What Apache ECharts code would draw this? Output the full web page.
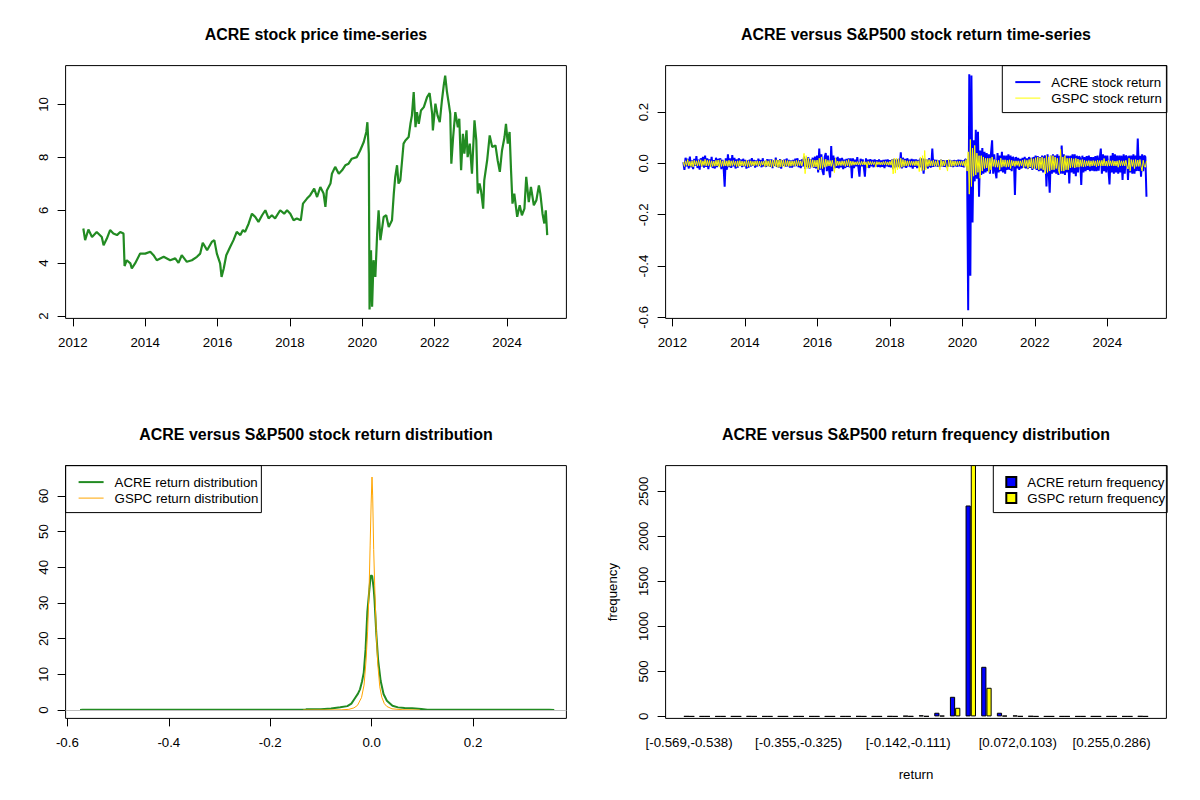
<!DOCTYPE html>
<html><head><meta charset="utf-8">
<script src="https://cdn.jsdelivr.net/npm/echarts@6/dist/echarts.min.js"></script>
<style>html,body{margin:0;padding:0;background:#fff}#c{width:1200px;height:800px}</style>
</head><body><div id="c"></div>
<script>
// ---------- DATA ----------
const priceSeries = [[2012.29,5.31],[2012.34,4.87],[2012.43,5.27],[2012.53,4.99],[2012.66,5.18],[2012.80,4.99],[2012.85,4.68],[2012.94,4.93],[2013.03,5.25],[2013.12,5.12],[2013.22,5.06],[2013.31,5.18],[2013.40,5.12],[2013.43,3.89],[2013.49,4.11],[2013.59,3.99],[2013.63,3.80],[2013.72,3.99],[2013.86,4.36],[2014.00,4.36],[2014.14,4.43],[2014.23,4.30],[2014.32,4.11],[2014.51,4.24],[2014.69,4.11],[2014.83,4.18],[2014.92,4.01],[2015.01,4.30],[2015.15,4.05],[2015.29,4.11],[2015.43,4.24],[2015.52,4.36],[2015.59,4.77],[2015.71,4.49],[2015.84,4.80],[2015.91,4.87],[2015.98,4.36],[2016.07,3.99],[2016.11,3.48],[2016.17,3.80],[2016.24,4.30],[2016.35,4.62],[2016.44,4.87],[2016.53,5.18],[2016.63,5.06],[2016.70,5.25],[2016.76,5.18],[2016.86,5.50],[2016.95,5.87],[2017.04,5.75],[2017.13,5.56],[2017.23,5.81],[2017.32,6.00],[2017.41,5.69],[2017.50,5.81],[2017.59,5.69],[2017.73,6.00],[2017.84,5.87],[2017.92,6.00],[2018.01,5.87],[2018.10,5.62],[2018.19,5.69],[2018.30,5.62],[2018.36,6.25],[2018.47,6.44],[2018.56,6.57],[2018.67,6.82],[2018.75,6.50],[2018.84,6.88],[2018.93,6.63],[2018.98,6.13],[2019.02,6.75],[2019.12,7.01],[2019.16,7.38],[2019.25,7.64],[2019.35,7.38],[2019.44,7.51],[2019.53,7.70],[2019.62,7.76],[2019.71,7.95],[2019.85,8.01],[2019.94,8.26],[2020.04,8.58],[2020.11,8.96],[2020.14,9.33],[2020.18,8.14],[2020.20,2.25],[2020.24,4.49],[2020.27,2.35],[2020.31,4.11],[2020.36,3.48],[2020.41,5.12],[2020.45,6.00],[2020.50,4.87],[2020.54,5.25],[2020.59,5.75],[2020.66,5.81],[2020.73,5.37],[2020.82,5.62],[2020.87,6.63],[2020.91,7.26],[2020.96,7.70],[2021.00,7.01],[2021.05,7.13],[2021.10,7.89],[2021.14,8.52],[2021.19,8.64],[2021.28,8.77],[2021.33,9.27],[2021.37,9.58],[2021.42,10.47],[2021.47,9.14],[2021.51,9.71],[2021.56,9.27],[2021.62,9.77],[2021.70,9.90],[2021.79,10.28],[2021.86,10.43],[2021.93,9.65],[2021.95,9.02],[2022.02,10.03],[2022.08,9.58],[2022.14,9.33],[2022.20,10.15],[2022.25,10.72],[2022.29,11.09],[2022.34,10.47],[2022.39,10.03],[2022.43,9.65],[2022.46,7.76],[2022.51,8.77],[2022.57,9.71],[2022.64,9.14],[2022.68,9.46],[2022.73,7.51],[2022.78,8.89],[2022.82,8.14],[2022.88,9.02],[2022.91,8.01],[2022.97,8.52],[2023.03,7.38],[2023.10,9.40],[2023.15,8.64],[2023.19,6.63],[2023.24,7.01],[2023.28,6.75],[2023.34,6.06],[2023.37,7.13],[2023.45,7.89],[2023.52,8.83],[2023.59,8.39],[2023.68,8.45],[2023.74,7.89],[2023.80,7.45],[2023.86,8.26],[2023.93,8.77],[2023.97,9.27],[2024.02,8.52],[2024.07,8.96],[2024.11,7.51],[2024.15,6.25],[2024.20,6.63],[2024.28,5.75],[2024.35,6.19],[2024.41,5.81],[2024.48,6.06],[2024.53,7.26],[2024.60,6.31],[2024.66,6.88],[2024.74,6.19],[2024.81,6.38],[2024.88,6.94],[2024.92,6.63],[2024.98,5.87],[2025.03,5.50],[2025.07,6.00],[2025.11,5.06]];

// daily returns, one value every 0.03 year from 2012.30
const returnStart = 2012.30;
const returnStep = 0.03;
const acreReturnValues = [
0.005,-0.025,0.022,-0.012,0.018,-0.02,0.026,-0.015,0.012,-0.022,0.018,-0.01,0.028,-0.018,0.015,-0.024,0.02,-0.012,0.025,-0.017,
0.03,-0.014,0.02,-0.022,0.016,-0.012,0.025,-0.018,0.013,-0.02,0.022,-0.015,0.018,-0.01,0.02,-0.022,0.014,-0.016,-0.091,0.02,
-0.025,0.035,-0.015,0.02,-0.018,0.032,-0.012,0.022,-0.02,0.016,-0.017,0.02,-0.01,0.015,-0.015,0.018,-0.012,0.014,-0.02,0.012,
-0.016,0.015,-0.013,0.02,-0.01,0.014,-0.016,0.012,-0.012,0.018,-0.01,0.013,-0.015,0.02,-0.012,0.01,-0.014,0.016,-0.011,0.015,
-0.014,0.016,-0.018,0.012,-0.01,0.022,-0.014,0.013,-0.016,0.017,-0.02,0.012,-0.01,0.015,-0.013,0.019,-0.012,0.014,-0.016,0.012,
-0.016,0.014,-0.012,0.018,-0.011,0.02,-0.015,0.013,-0.018,0.016,-0.012,0.026,-0.022,0.018,-0.014,0.024,-0.02,0.016,-0.012,0.022,
-0.018,0.026,-0.02,0.03,-0.035,0.058,-0.025,0.035,-0.03,-0.045,0.025,0.04,-0.03,0.03,-0.025,-0.055,0.068,-0.03,0.03,-0.02,
0.022,-0.018,0.025,-0.02,0.02,-0.016,0.022,-0.022,0.015,-0.018,0.018,-0.014,0.02,-0.016,0.02,-0.058,0.02,-0.018,0.015,-0.012,
0.024,-0.015,-0.052,0.018,-0.012,0.016,-0.015,-0.052,0.02,-0.016,0.015,-0.018,0.017,-0.012,0.014,-0.015,0.016,-0.012,0.013,-0.014,
0.016,-0.015,0.012,-0.013,0.014,-0.018,0.015,-0.012,0.016,-0.014,0.013,-0.015,0.016,-0.022,0.018,-0.016,0.015,-0.013,0.018,-0.016,
0.043,-0.02,0.022,-0.015,0.018,-0.018,0.02,-0.012,0.015,-0.015,0.018,-0.02,0.016,-0.014,0.016,-0.018,0.014,-0.015,0.02,-0.016,
0.02,-0.04,0.018,-0.016,0.015,-0.02,0.02,-0.012,-0.015,0.058,-0.014,0.015,-0.012,0.014,-0.013,0.012,-0.014,0.015,-0.012,0.013,
-0.013,0.012,-0.014,0.013,-0.012,0.014,-0.013,0.012,-0.014,0.013,-0.011,0.012,-0.013,0.015,-0.012,0.014,-0.013,0.012,-0.015,0.014,
0.016,-0.02,-0.572,0.347,-0.438,0.342,-0.23,0.09,-0.07,0.131,-0.06,0.123,-0.13,0.05,-0.045,0.06,-0.04,0.045,-0.035,0.04,
-0.03,0.035,-0.04,0.04,0.09,-0.04,0.035,-0.03,-0.058,0.04,-0.035,0.03,-0.03,0.045,-0.035,0.03,-0.04,0.03,-0.025,0.035,
-0.025,0.03,-0.03,0.025,0.02,-0.123,0.025,-0.02,0.022,-0.025,0.018,-0.02,0.022,-0.018,0.025,-0.02,0.02,-0.022,0.025,-0.018,
0.022,-0.025,0.025,-0.02,0.03,-0.025,0.028,-0.03,0.025,-0.028,0.03,-0.035,0.025,0.03,-0.09,0.035,-0.03,-0.114,0.03,-0.04,
0.035,-0.035,0.03,-0.04,0.035,-0.045,0.03,-0.04,0.07,-0.04,0.035,-0.045,0.03,-0.035,0.03,-0.078,0.03,-0.035,0.035,-0.04,
0.035,-0.05,0.03,-0.035,0.028,0.02,-0.084,0.03,-0.035,0.025,-0.03,0.028,-0.025,0.03,-0.03,0.025,-0.028,0.025,-0.03,0.028,
-0.03,0.03,-0.028,0.02,0.058,-0.04,0.035,-0.03,0.03,-0.035,0.03,-0.025,-0.082,0.03,-0.035,0.04,-0.04,0.035,-0.035,0.03,
-0.04,0.03,-0.035,0.03,-0.065,0.035,-0.04,0.03,0.025,-0.065,0.03,-0.035,0.03,-0.04,0.035,-0.04,0.03,-0.03,0.097,-0.03,
0.03,-0.052,0.035,-0.03,0.03,0.025,-0.13];
const gspcReturnValues = [
0.005,-0.012,0.01,-0.008,0.015,-0.01,0.008,-0.012,0.01,-0.014,0.012,-0.008,0.01,-0.01,0.012,-0.009,0.014,-0.012,0.01,-0.008,
0.016,-0.01,0.012,-0.009,0.011,-0.013,0.01,-0.012,0.009,-0.011,0.012,-0.01,0.013,-0.015,0.014,-0.012,0.01,-0.011,0.012,-0.01,
0.01,-0.012,0.012,-0.011,0.01,-0.009,0.011,-0.008,0.009,-0.013,0.01,-0.012,0.011,-0.01,0.009,-0.01,0.008,-0.011,0.012,-0.013,
0.01,-0.012,0.01,-0.009,0.008,-0.01,0.009,-0.008,0.01,-0.011,0.009,-0.01,0.008,-0.007,0.009,-0.013,0.012,-0.011,0.01,-0.012,
0.013,-0.015,0.012,-0.013,0.015,-0.012,0.014,-0.016,0.013,-0.014,0.015,-0.013,0.012,-0.015,0.012,-0.01,0.011,-0.012,0.01,-0.011,
0.01,-0.009,0.01,-0.011,0.012,-0.01,0.011,-0.009,0.01,-0.01,0.009,0.039,-0.04,0.03,-0.02,0.02,-0.018,0.015,-0.016,0.014,
-0.015,0.012,-0.014,0.013,-0.025,0.02,-0.02,0.025,-0.02,0.015,-0.015,0.016,-0.012,0.012,-0.01,0.011,-0.012,0.012,-0.01,-0.036,
0.02,-0.01,0.009,-0.008,0.008,-0.009,0.01,-0.008,0.01,-0.012,0.011,-0.01,0.015,-0.012,0.009,-0.008,0.008,-0.007,0.006,-0.006,
0.007,-0.006,0.006,-0.007,0.008,-0.006,0.007,-0.006,0.006,-0.018,0.008,-0.006,0.007,-0.006,0.007,-0.005,0.006,-0.015,0.007,-0.005,
0.006,-0.006,0.005,-0.006,0.007,-0.006,0.008,-0.007,0.006,-0.007,0.008,-0.007,0.015,-0.041,0.02,-0.038,0.02,-0.025,0.018,-0.02,
0.02,-0.015,0.015,-0.012,0.012,-0.01,0.01,-0.01,0.01,-0.008,0.009,-0.008,0.008,-0.009,0.01,-0.009,0.01,-0.032,0.025,-0.03,
0.03,-0.027,0.05,-0.025,0.015,-0.012,0.015,-0.01,0.01,-0.01,0.012,-0.011,0.01,-0.011,0.012,-0.01,-0.025,0.015,-0.012,0.01,
-0.01,0.012,-0.01,-0.03,0.015,-0.014,0.012,-0.012,0.01,-0.01,0.01,-0.009,0.008,-0.008,0.009,-0.008,0.008,-0.009,0.009,-0.012,
0.015,-0.03,0.045,-0.12,0.093,-0.09,0.06,-0.05,0.07,-0.045,0.04,-0.035,0.03,-0.058,0.03,-0.03,0.025,-0.02,0.02,-0.018,
0.02,-0.035,0.02,-0.025,0.025,-0.012,0.015,-0.015,0.012,-0.015,0.012,-0.025,0.02,-0.015,0.014,-0.012,0.014,-0.015,0.012,-0.013,
0.014,-0.02,0.012,-0.01,0.01,-0.012,0.01,-0.008,0.01,-0.012,0.01,-0.009,0.012,-0.018,0.015,-0.012,0.012,-0.02,0.015,-0.014,
0.02,-0.02,0.018,-0.02,0.022,-0.02,0.025,-0.025,0.022,-0.02,0.025,-0.025,0.02,-0.04,0.03,-0.035,0.025,-0.03,0.03,-0.025,
0.03,-0.025,0.025,-0.02,0.02,-0.025,-0.04,0.055,-0.03,0.025,-0.03,0.03,-0.025,0.02,-0.025,0.02,-0.018,0.02,-0.015,0.018,
-0.018,0.02,-0.015,0.017,-0.015,0.014,-0.012,0.015,-0.014,0.012,-0.012,0.01,-0.01,0.011,-0.012,0.01,-0.01,0.011,-0.009,0.01,
-0.013,0.012,-0.01,0.011,-0.01,0.012,-0.01,0.019,-0.01,0.009,-0.011,0.012,-0.01,0.01,-0.009,0.011,-0.01,0.009,-0.01,0.01,
-0.015,0.012,-0.01,0.01,-0.009,0.01,-0.01,0.012,-0.01,-0.022,0.02,-0.03,0.015,-0.012,0.014,-0.02,0.015,-0.012,0.013,-0.012,
0.015,-0.012,-0.03,0.012,-0.01,-0.015,0.01];

const acreDensity = [[-0.575,0],[-0.57,0.1],[-0.13,0.1],[-0.128,0.25],[-0.10,0.2],[-0.08,0.45],[-0.062,0.8],[-0.048,1.1],[-0.04,1.8],[-0.033,3.3],[-0.027,4.6],[-0.023,5.8],[-0.019,8],[-0.0156,10.5],[-0.012,17],[-0.0085,27.5],[-0.005,33],[-0.002,37.6],[0.001,37.6],[0.004,34],[0.0057,30.7],[0.0092,21.3],[0.0128,13.9],[0.0177,8.2],[0.0234,4.5],[0.030,2.6],[0.041,1.2],[0.052,0.75],[0.065,0.6],[0.08,0.5],[0.098,0.3],[0.11,0.1],[0.35,0.1],[0.36,0]];
const gspcDensity = [[-0.135,0],[-0.06,0.05],[-0.045,0.2],[-0.035,0.6],[-0.028,1.3],[-0.02,3.5],[-0.015,7],[-0.011,14],[-0.008,22],[-0.005,34],[-0.003,46],[-0.001,58],[0.0007,65.3],[0.002,60],[0.004,45],[0.006,35],[0.009,22],[0.012,13],[0.016,6.5],[0.02,3.6],[0.025,1.8],[0.03,1.0],[0.04,0.35],[0.06,0.1],[0.095,0]];

const histBins = ['[-0.569,-0.538)','[-0.538,-0.508)','[-0.508,-0.477)','[-0.477,-0.447)','[-0.447,-0.416)','[-0.416,-0.386)','[-0.386,-0.355)','[-0.355,-0.325)','[-0.325,-0.294)','[-0.294,-0.264)','[-0.264,-0.233)','[-0.233,-0.203)','[-0.203,-0.172)','[-0.172,-0.142)','[-0.142,-0.111)','[-0.111,-0.081)','[-0.081,-0.050)','[-0.050,-0.020)','[-0.020,0.011)','[0.011,0.041)','[0.041,0.072)','[0.072,0.103)','[0.103,0.133)','[0.133,0.164)','[0.164,0.194)','[0.194,0.225)','[0.225,0.255)','[0.255,0.286)','[0.286,0.316)','[0.316,0.347]'];
const acreFreq = [1,0,0,0,1,0,0,0,0,0,0,1,0,1,6,12,41,218,2342,551,41,10,3,0,0,0,0,0,0,2];
const gspcFreq = [0,0,0,0,0,0,0,0,0,0,0,0,0,0,1,2,8,96,2800,318,8,1,0,0,0,0,0,0,0,0];
const histShownLabels = [0,7,14,21,27];

const yearTicks = [2012,2014,2016,2018,2020,2022,2024];
const priceTicks = [2,4,6,8,10];
const returnTicks = [-0.6,-0.4,-0.2,0,0.2];
const densXTicks = [-0.6,-0.4,-0.2,0,0.2];
const densYTicks = [0,10,20,30,40,50,60];
const freqTicks = [0,500,1000,1500,2000,2500];

// ---------- LAYOUT ----------
const FONT = '"Liberation Sans", Arial, Helvetica, sans-serif';
const FS = 13.28;
const boxes = [
  {left:65.6, top:65.6, width:500.8, height:252.8},
  {left:665.6, top:65.6, width:500.8, height:252.8},
  {left:65.6, top:465.6, width:500.8, height:252.8},
  {left:665.6, top:465.6, width:500.8, height:252.8}
];
const fmt1 = v => v.toFixed(1);
const fmt0 = v => String(Math.round(v));
const toSeries = vals => vals.map((v, i) => [+(returnStart + i * returnStep).toFixed(3), v]);

function xVal(gi, min, max, ticks, fmt) {
  return {type:'value', gridIndex:gi, min:min, max:max, position:'bottom',
    axisLine:{show:false, onZero:false}, splitLine:{show:false},
    axisTick:{show:true, inside:false, length:8, customValues:ticks, lineStyle:{color:'#000', width:1}},
    axisLabel:{customValues:ticks, formatter:fmt, margin:17.5, color:'#000', fontSize:FS, fontFamily:FONT}};
}
function yVal(gi, min, max, ticks, fmt) {
  return {type:'value', gridIndex:gi, min:min, max:max, position:'left',
    axisLine:{show:false, onZero:false}, splitLine:{show:false},
    axisTick:{show:true, inside:false, length:8, customValues:ticks, lineStyle:{color:'#000', width:1}},
    axisLabel:{customValues:ticks, formatter:fmt, rotate:90, margin:16, color:'#000', fontSize:FS, fontFamily:FONT}};
}
const titleStyle = {fontSize:15.94, fontWeight:'bold', fontFamily:FONT, color:'#000'};
const legendBase = {orient:'vertical', selectedMode:false, borderColor:'#000', borderWidth:1, borderRadius:0,
  padding:[9.5,5,7.5,12], itemGap:2, itemWidth:25, itemHeight:14,
  textStyle:{fontSize:FS, fontFamily:FONT, color:'#000', lineHeight:14, padding:[0,0,0,6]}};

const histCats = [''].concat(histBins, ['']);
const yQ = 3;
const option = {
  animation:false,
  backgroundColor:'#fff',
  title:[
    {text:'ACRE stock price time-series', left:316, top:26.5, textAlign:'center', padding:0, textStyle:titleStyle},
    {text:'ACRE versus S&P500 stock return time-series', left:916, top:26.5, textAlign:'center', padding:0, textStyle:titleStyle},
    {text:'ACRE versus S&P500 stock return distribution', left:316, top:426.5, textAlign:'center', padding:0, textStyle:titleStyle},
    {text:'ACRE versus S&P500 return frequency distribution', left:916, top:426.5, textAlign:'center', padding:0, textStyle:titleStyle}
  ],
  legend:[
    Object.assign({}, legendBase, {left:1002.3, top:65.6, data:['ACRE stock return','GSPC stock return'],
      itemStyle:{opacity:0}, lineStyle:{width:'inherit'}}),
    Object.assign({}, legendBase, {left:65.6, top:465.6, data:['ACRE return distribution','GSPC return distribution'],
      itemStyle:{opacity:0}, lineStyle:{width:'inherit'}, padding:[9.5,3,7.5,12]}),
    Object.assign({}, legendBase, {left:993.3, top:465.6, data:['ACRE return frequency','GSPC return frequency'],
      icon:'rect', itemWidth:10, itemHeight:10, itemGap:2, padding:[9.5,2,7.5,12]})
  ],
  grid: boxes.map(b => Object.assign({show:true, borderColor:'#000', borderWidth:1, backgroundColor:'transparent', containLabel:false}, b)),
  xAxis:[
    xVal(0, 2011.80, 2025.64, yearTicks, fmt0),
    xVal(1, 2011.81, 2025.63, yearTicks, fmt0),
    xVal(2, -0.6035, 0.384, densXTicks, fmt1),
    {type:'category', gridIndex:yQ, data:histCats, boundaryGap:true,
      axisLine:{show:false, onZero:false}, axisTick:{show:false}, splitLine:{show:false},
      axisLabel:{interval:(i) => histShownLabels.indexOf(i - 1) >= 0, margin:17.5, color:'#000', fontSize:FS, fontFamily:FONT},
      name:'return', nameLocation:'middle', nameGap:50, nameTextStyle:{color:'#000', fontSize:FS, fontFamily:FONT}}
  ],
  yAxis:[
    yVal(0, 1.91, 11.47, priceTicks, fmt0),
    yVal(1, -0.604, 0.381, returnTicks, fmt1),
    yVal(2, -2.34, 68.5, densYTicks, fmt0),
    Object.assign(yVal(3, -22, 2785, freqTicks, fmt0),
      {name:'frequency', nameLocation:'middle', nameGap:47, nameTextStyle:{color:'#000', fontSize:FS, fontFamily:FONT}})
  ],
  series:[
    {name:'ACRE price', type:'line', xAxisIndex:0, yAxisIndex:0, data:priceSeries, symbol:'none', showSymbol:false,
      lineStyle:{color:'#228B22', width:2.2}, itemStyle:{color:'#228B22'}},
    {name:'ACRE stock return', type:'line', xAxisIndex:1, yAxisIndex:1, data:toSeries(acreReturnValues), symbol:'none', showSymbol:false,
      lineStyle:{color:'#0000FF', width:2}, itemStyle:{color:'#0000FF'}},
    {name:'GSPC stock return', type:'line', xAxisIndex:1, yAxisIndex:1, data:toSeries(gspcReturnValues), symbol:'none', showSymbol:false,
      lineStyle:{color:'#FFFF00', width:1}, itemStyle:{color:'#FFFF00'}},
    {name:'ACRE return distribution', type:'line', xAxisIndex:2, yAxisIndex:2, data:acreDensity, symbol:'none', showSymbol:false,
      lineStyle:{color:'#228B22', width:2}, itemStyle:{color:'#228B22'}},
    {name:'GSPC return distribution', type:'line', xAxisIndex:2, yAxisIndex:2, data:gspcDensity, symbol:'none', showSymbol:false,
      lineStyle:{color:'#FFA500', width:1}, itemStyle:{color:'#FFA500'},
      markLine:{silent:true, symbol:['none','none'], label:{show:false}, animation:false,
        lineStyle:{color:'#BEBEBE', type:'solid', width:1}, data:[{yAxis:0}]}},
    {name:'ACRE return frequency', type:'bar', xAxisIndex:yQ, yAxisIndex:yQ, data:[null].concat(acreFreq,[null]),
      barGap:'0%', barCategoryGap:'33.333%', barMinHeight:0.01,
      itemStyle:{color:'#0000FF', borderColor:'#000', borderWidth:1}},
    {name:'GSPC return frequency', type:'bar', xAxisIndex:yQ, yAxisIndex:yQ, data:[null].concat(gspcFreq,[null]),
      barGap:'0%', barCategoryGap:'33.333%', barMinHeight:0.01,
      itemStyle:{color:'#FFFF00', borderColor:'#000', borderWidth:1}}
  ]
};
const chart = echarts.init(document.getElementById('c'), null, {renderer:'svg', width:1200, height:800});
chart.setOption(option);
</script>
</body></html>
